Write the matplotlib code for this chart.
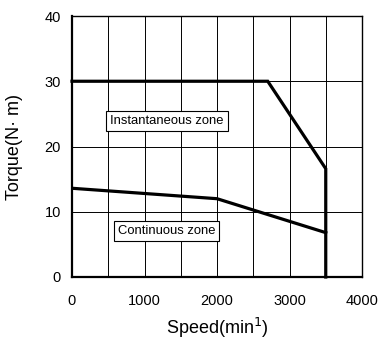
import numpy as np
import matplotlib.pyplot as plt

plt.rcParams['font.family'] = ['Liberation Sans', 'DejaVu Sans']

# speed (min^-1) / torque (N·m) curves
inst_speed = [0, 2700, 3500, 3500]
inst_torque = [30, 30, 16.6, 0]
cont_speed = [0, 2000, 3500]
cont_torque = [13.6, 12.0, 6.8]

xticks = [0, 1000, 2000, 3000, 4000]
yticks = [0, 10, 20, 30, 40]

fig = plt.figure(figsize=(3.79, 3.45), dpi=100)
ax = fig.add_axes([72/379, 1 - 277/345, 290/379, 261/345])

ax.set_xlim(0, 4000)
ax.set_ylim(0, 40)
grid_x = np.arange(0, 4001, 500)
ax.set_xticks(grid_x)
ax.set_xticklabels([str(v) if v in xticks else '' for v in grid_x])
ax.set_yticks(yticks)
ax.grid(True, color='black', linewidth=0.7)
ax.tick_params(length=0, labelsize=10.5)
ax.tick_params(axis='x', pad=12)
ax.tick_params(axis='y', pad=8)
for s in ax.spines.values():
    s.set_linewidth(1.0)
ax.spines['left'].set_linewidth(1.6)
ax.spines['bottom'].set_linewidth(1.6)

ax.plot(inst_speed, inst_torque, color='black', linewidth=2.3, solid_joinstyle='miter', clip_on=False)
ax.plot(cont_speed, cont_torque, color='black', linewidth=2.3)

box = dict(boxstyle='square,pad=0.3', facecolor='white', edgecolor='black', linewidth=0.8)
ax.text(1310, 23.9, 'Instantaneous zone', ha='center', va='center', fontsize=9.4, bbox=box)
ax.text(1303, 7.1, 'Continuous zone', ha='center', va='center', fontsize=9.4, bbox=box)

ax.set_xlabel('Speed(min$^{1}$)', fontsize=13)
ax.set_ylabel('Torque(N· m)', fontsize=13)
ax.xaxis.set_label_coords(0.5, (277 - 328) / 261)
ax.xaxis.label.set_va('center')
ax.yaxis.set_label_coords((15 - 72) / 290, 0.5)
ax.yaxis.label.set_va('center')

fig.savefig('out.png', dpi=100)
